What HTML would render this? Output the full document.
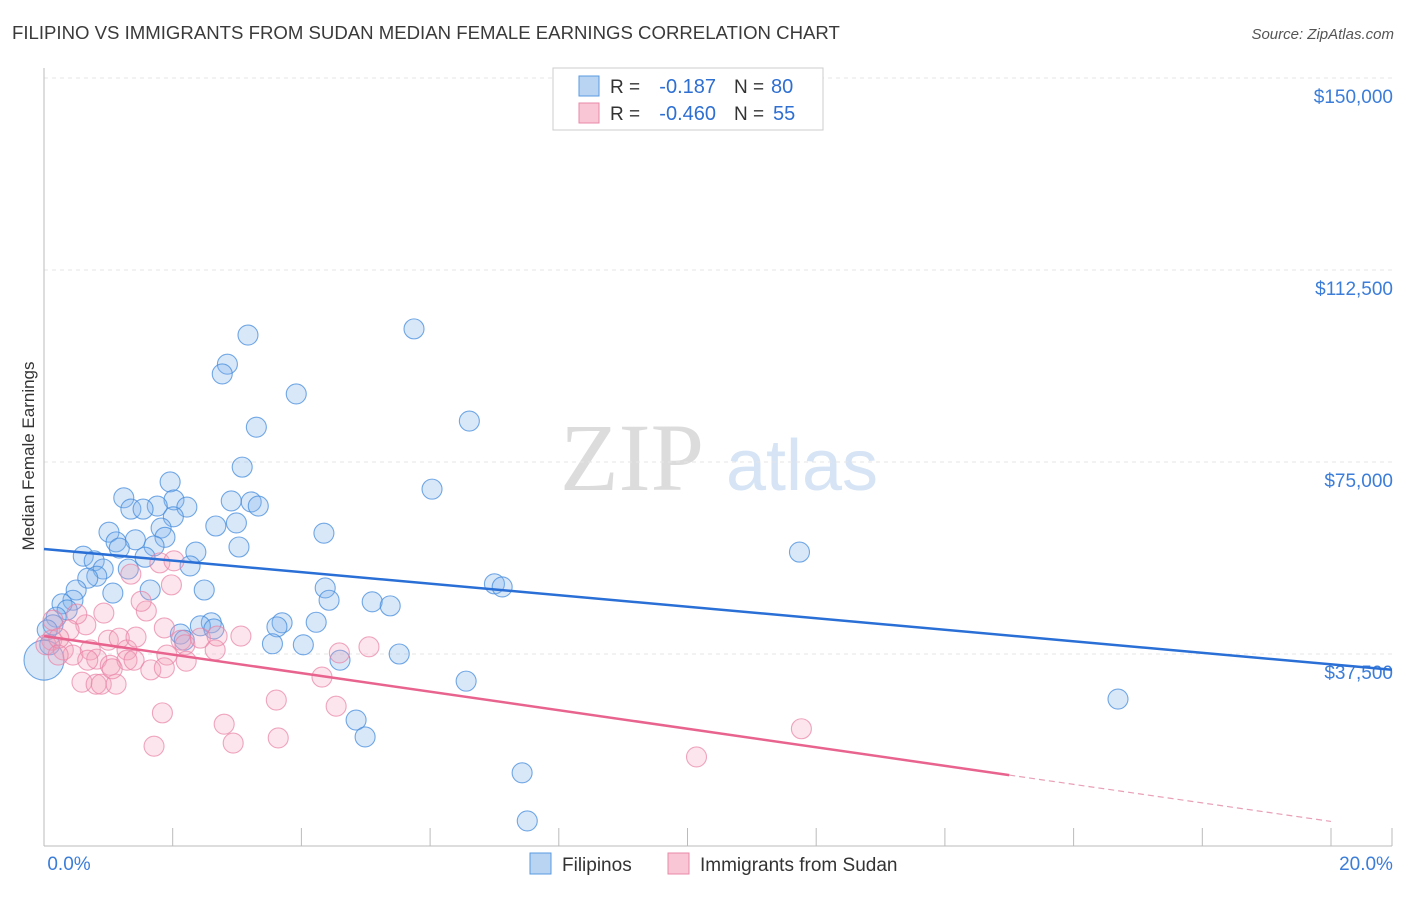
<!DOCTYPE html>
<html><head><meta charset="utf-8"><style>
body{margin:0;background:#fff;font-family:"Liberation Sans",sans-serif}
</style></head><body>
<svg id="chart" width="1406" height="892" xmlns="http://www.w3.org/2000/svg" font-family="Liberation Sans, sans-serif">
<text x="12" y="39" font-size="18.6" fill="#3a3a3a">FILIPINO VS IMMIGRANTS FROM SUDAN MEDIAN FEMALE EARNINGS CORRELATION CHART</text>
<text x="1394" y="39" font-size="15" fill="#555" text-anchor="end" font-style="italic">Source: ZipAtlas.com</text>
<text transform="translate(34,456) rotate(-90)" font-size="17" fill="#333" text-anchor="middle">Median Female Earnings</text>
<g>
<text x="632" y="490" font-size="96" fill="#dcdcdc" text-anchor="middle" font-family="Liberation Serif, serif">ZIP</text>
<text x="802" y="490" font-size="72" fill="#d6e4f5" text-anchor="middle">atlas</text>
</g>
<g id="grid"></g><g id="axes"></g><g id="pts"></g><g id="lines"></g>
<g>
<rect x="553" y="68" width="270" height="62" fill="#fff" stroke="#ccc"/>
<rect x="579" y="76" width="20" height="20" fill="#b9d3f3" stroke="#5b9be0"/>
<rect x="579" y="103" width="20" height="20" fill="#f9c6d6" stroke="#e98aa8"/>
<text x="610" y="93" font-size="19" fill="#333">R =</text>
<text x="716" y="93" font-size="20" fill="#2e6fd1" text-anchor="end">-0.187</text>
<text x="734" y="93" font-size="19" fill="#333">N =</text>
<text x="771" y="93" font-size="20" fill="#2e6fd1">80</text>
<text x="610" y="120" font-size="19" fill="#333">R =</text>
<text x="716" y="120" font-size="20" fill="#2e6fd1" text-anchor="end">-0.460</text>
<text x="734" y="120" font-size="19" fill="#333">N =</text>
<text x="773" y="120" font-size="20" fill="#2e6fd1">55</text>
</g>
<g>
<rect x="530" y="853" width="21" height="21" fill="#b9d3f3" stroke="#5b9be0"/>
<text x="562" y="871" font-size="19" fill="#333">Filipinos</text>
<rect x="668" y="853" width="21" height="21" fill="#f9c6d6" stroke="#e98aa8"/>
<text x="700" y="871" font-size="19" fill="#333">Immigrants from Sudan</text>
</g>
</svg>
<script>
const yTicks=[37500,75000,112500,150000];
const yTickLabels=["$37,500","$75,000","$112,500","$150,000"];
const xTickLabels=["0.0%","20.0%"];
const blueX=[3.17,5.75,2.85,2.77,3.92,3.30,6.61,3.08,6.03,1.24,1.96,2.02,1.35,1.76,2.22,1.54,2.91,3.22,3.33,2.01,2.99,2.67,1.01,1.82,1.88,4.35,1.12,1.42,1.71,3.03,1.17,2.36,1.57,0.61,0.78,11.74,2.27,1.31,0.92,0.82,0.68,1.65,2.49,0.50,1.07,4.37,7.00,7.12,4.43,5.10,5.38,0.45,0.28,0.36,0.19,4.23,3.70,3.62,2.60,2.43,2.64,2.12,2.18,0.14,0.05,3.55,4.03,4.60,5.52,6.56,16.69,4.85,4.99,7.43,7.51,0.09,0.0];
const blueY=[99.8,101.0,94.1,92.2,88.3,81.8,83.0,74.0,69.7,68.0,71.1,67.6,65.8,66.4,66.2,65.8,67.4,67.2,66.4,64.3,63.1,62.5,61.3,62.1,60.3,61.1,59.4,59.8,58.6,58.4,58.2,57.4,56.4,56.6,55.7,57.4,54.7,54.1,54.1,52.7,52.3,50.0,50.0,50.0,49.4,50.4,51.2,50.6,48.0,47.7,46.9,48.0,47.3,46.1,44.7,43.7,43.6,42.8,43.6,43.0,42.4,41.4,40.2,43.2,42.2,39.5,39.3,36.3,37.5,32.2,28.7,24.6,21.3,14.3,4.9,39.3,36.3];
const pinkX=[1.35,1.98,1.80,2.02,0.93,1.59,1.51,0.65,0.51,0.14,0.39,0.12,0.03,0.30,0.45,0.72,0.82,1.00,1.17,1.29,1.43,1.87,2.13,2.19,1.91,2.43,2.66,2.69,3.06,1.03,1.66,1.87,2.21,1.29,0.59,0.81,0.89,1.12,4.32,5.05,4.59,3.61,1.84,1.71,2.80,2.94,3.64,4.54,11.77,10.14,0.23,0.68,1.40,0.22,1.06];
const pinkY=[53.1,51.0,55.3,55.7,45.5,45.9,47.8,43.2,45.3,44.1,42.2,40.2,39.3,38.3,37.3,38.3,36.5,40.2,40.6,38.3,40.8,42.6,40.2,39.3,37.3,40.6,38.3,41.0,41.0,35.3,34.4,34.8,36.1,36.3,32.0,31.6,31.6,31.6,33.0,38.9,37.7,28.5,26.0,19.5,23.8,20.1,21.1,27.3,22.9,17.4,40.6,36.3,36.3,37.3,34.6];
const blueTrend=[58.0,-1.126];
const pinkTrend=[41.0,-1.81];
const NS="http://www.w3.org/2000/svg";
const X=v=>44+v*64.35, Y=k=>846-k*1000/37500*192;
function mk(t,a,p){const e=document.createElementNS(NS,t);for(const k in a)e.setAttribute(k,a[k]);p.appendChild(e);return e;}
const grid=document.getElementById('grid'),axes=document.getElementById('axes');
yTicks.forEach((t,i)=>{const y=Y(t/1000);
const g=mk('line',{x1:44,x2:1392,y1:y,y2:y,stroke:'#e6e6e6','stroke-dasharray':'4,4'},grid);

const l=mk('text',{x:1393,y:y+25,'font-size':19,fill:'#3b7dd8','text-anchor':'end'},axes);l.textContent=yTickLabels[i];
});
mk('line',{x1:44,x2:44,y1:68,y2:846,stroke:'#bbb'},axes);
mk('line',{x1:44,x2:1392,y1:846,y2:846,stroke:'#bbb'},axes);
for(let i=0;i<=10;i++){const x=X(i*2);const t=mk('line',{x1:x,x2:x,y1:828,y2:846,stroke:'#bbb'},axes);}
mk('line',{x1:1392,x2:1392,y1:828,y2:846,stroke:'#bbb'},axes);
[0,20].forEach((v,i)=>{const l=mk('text',{x:X(v)+(i?35:25),y:870,'font-size':19,fill:'#3b7dd8','text-anchor':'middle'},axes);l.textContent=xTickLabels[i];
});
const pts=document.getElementById('pts');
blueX.forEach((v,i)=>{const c=mk('circle',{cx:X(v),cy:Y(blueY[i]),r:(i==blueX.length-1)?20:10,fill:'rgba(130,178,235,0.3)',stroke:'rgba(70,140,220,0.75)','stroke-width':1.1},pts);
});
pinkX.forEach((v,i)=>{const c=mk('circle',{cx:X(v),cy:Y(pinkY[i]),r:10,fill:'rgba(245,160,188,0.28)',stroke:'rgba(232,130,165,0.7)','stroke-width':1.1},pts);
});
const ln=document.getElementById('lines');
const bl=mk('line',{x1:X(0),y1:Y(blueTrend[0]),x2:1392,y2:Y(blueTrend[0]+blueTrend[1]*(1392-44)/64.35),stroke:'#2a6fd6','stroke-width':2.5},ln);

const pl=mk('line',{x1:X(0),y1:Y(pinkTrend[0]),x2:X(15),y2:Y(pinkTrend[0]+pinkTrend[1]*15),stroke:'#e8648f','stroke-width':2.5},ln);

const pd=mk('line',{x1:X(15),y1:Y(pinkTrend[0]+pinkTrend[1]*15),x2:X(20),y2:Y(pinkTrend[0]+pinkTrend[1]*20),stroke:'#e8a0b6','stroke-width':1.2,'stroke-dasharray':'6,4'},ln);

</script>
</body></html>
